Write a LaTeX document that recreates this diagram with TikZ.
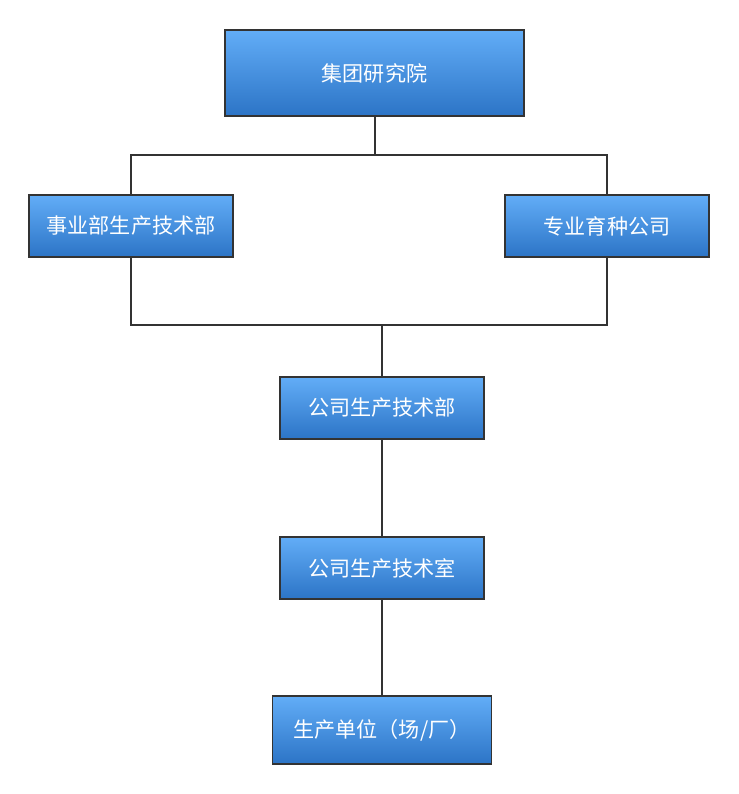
\documentclass[tikz,border=0pt]{standalone}
\usepackage{fontspec}
\setmainfont{Noto Sans CJK SC}
\usepackage{tikz}

\definecolor{boxtop}{HTML}{62ADF7}
\definecolor{boxbot}{HTML}{2C74C6}
\definecolor{edge}{HTML}{333333}

\tikzset{
  unitbox/.style={draw=edge,line width=1.3pt,top color=boxtop,bottom color=boxbot,
    text=white,font=\fontsize{18}{21}\selectfont,inner sep=0pt},
  link/.style={draw=edge,line width=1.3pt}
}

\begin{document}
\begin{tikzpicture}[x=0.03cm,y=-0.03cm]

\useasboundingbox (0,0) rectangle (739,794);

\node[unitbox,minimum width=8.97cm,minimum height=2.58cm] (yjy) at (374.5,73) {集团研究院};

\node[unitbox,minimum width=6.12cm,minimum height=1.86cm] (syb) at (131,226) {事业部生产技术部};
\node[unitbox,minimum width=6.12cm,minimum height=1.86cm] (zyy) at (607,226) {专业育种公司};

\node[unitbox,minimum width=6.12cm,minimum height=1.86cm] (gsb) at (382,408) {公司生产技术部};
\node[unitbox,minimum width=6.12cm,minimum height=1.86cm] (gss) at (382,568) {公司生产技术室};
\node[unitbox,minimum width=6.57cm,minimum height=2.04cm] (scdw) at (382,730) {生产单位（场/厂）};

% top bus
\coordinate (tbus) at (375,155);
\draw[link] (tbus |- yjy.south)--(tbus);
\draw[link] (syb.north) |- (tbus) -| (zyy.north);

% bottom bus
\coordinate (bbus) at (382,325);
\draw[link] (syb.south) |- (bbus) -| (zyy.south);
\draw[link] (bbus)--(gsb.north);

\draw[link] (gsb.south)--(gss.north);
\draw[link] (gss.south)--(scdw.north);

\end{tikzpicture}
\end{document}
